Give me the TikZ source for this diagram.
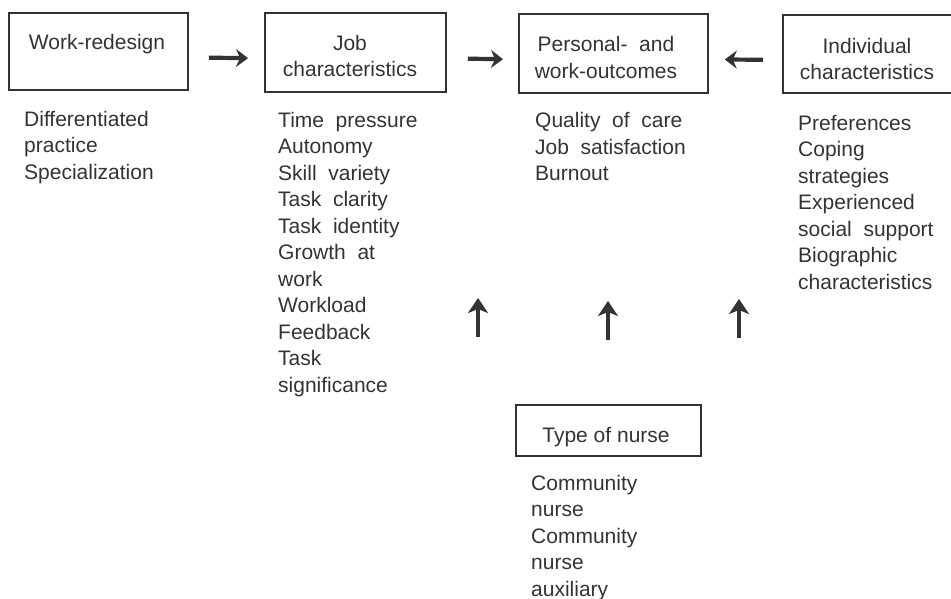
\documentclass[tikz,border=0pt]{standalone}
\usepackage{fontspec}
\setmainfont{Liberation Sans}
\usetikzlibrary{arrows.meta}
\definecolor{ink}{HTML}{333333}
\begin{document}
\begin{tikzpicture}[x=1pt,y=-1pt,
  boxn/.style={draw=ink, line width=1.8pt, rectangle, inner sep=0pt, anchor=north west},
  txt/.style={text=ink, font=\fontsize{21}{26.5}\selectfont, inner sep=0pt},
  lst/.style={txt, align=left, anchor=base west},
  ctr/.style={txt, align=center, anchor=base},
  bigarrow/.style={draw=ink, line width=4.2pt, -{Stealth[length=12pt,width=18pt,inset=4pt]}},
  uparrow/.style={draw=ink, line width=4.6pt, -{Stealth[length=15pt,width=20pt,inset=4pt]}}]
\useasboundingbox (0,0) rectangle (951,599);
% boxes
\node[boxn, minimum width=179pt, minimum height=77pt] (wr) at (8,12) {};
\node[boxn, minimum width=181pt, minimum height=79pt] (jc) at (264,12) {};
\node[boxn, minimum width=189pt, minimum height=79pt] (po) at (518,13) {};
\node[boxn, minimum width=190pt, minimum height=78pt] (ic) at (782,14) {};
\node[boxn, minimum width=185pt, minimum height=51pt] (tn) at (515,404) {};
% box titles (anchor = baseline of last line)
\node[ctr] (wrt) at (97,50) {Work-redesign};
\node[ctr] (jct) at (350,77) {Job\\characteristics};
\node[ctr] (pot) at (606,78.5) {Personal-\ \ and\\work-outcomes};
\node[ctr] (ict) at (867,80) {Individual\\characteristics};
\node[ctr] (tnt) at (606,442) {Type of nurse};
% lists (anchor = baseline of last line)
\node[lst] (l1) at (24,179) {Differentiated\\practice\\Specialization};
\node[lst] (l2) at (278,392) {Time\ \ pressure\\Autonomy\\Skill\ \ variety\\Task\ \ clarity\\Task\ \ identity\\Growth\ \ at\\work\\Workload\\Feedback\\Task\\significance};
\node[lst] (l3) at (535,181) {Quality\ \ of\ \ care\\Job\ \ satisfaction\\Burnout};
\node[lst] (l4) at (798,289) {Preferences\\Coping\\strategies\\Experienced\\social\ \ support\\Biographic\\characteristics};
\node[lst] (l5) at (531,596) {Community\\nurse\\Community\\nurse\\auxiliary};
% horizontal arrows
\draw[bigarrow, shorten <=20pt, shorten >=16pt] ([yshift=-6pt]wr.east) -- ([yshift=-6pt]jc.west);
\draw[bigarrow, shorten <=21pt, shorten >=15pt] ([yshift=-6pt]jc.east) -- ([yshift=-6pt]po.west);
\draw[bigarrow, shorten <=19pt, shorten >=16pt] ([yshift=-6pt]ic.west) -- ([yshift=-6pt]po.east);
% up arrows
\coordinate (u1s) at (478,337); \coordinate (u1e) at (478,298);
\coordinate (u2s) at (608,340); \coordinate (u2e) at (608,301);
\coordinate (u3s) at (739,338); \coordinate (u3e) at (739,299);
\draw[uparrow] (u1s) -- (u1e);
\draw[uparrow] (u2s) -- (u2e);
\draw[uparrow] (u3s) -- (u3e);
\end{tikzpicture}
\end{document}
